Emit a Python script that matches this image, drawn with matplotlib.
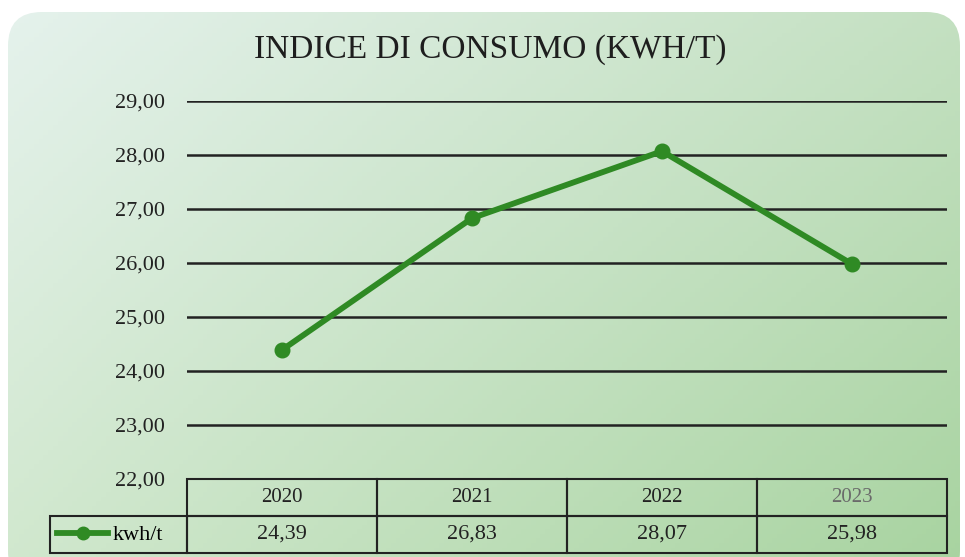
import numpy as np
import matplotlib
matplotlib.use("Agg")
import matplotlib.pyplot as plt
from matplotlib.patches import FancyBboxPatch
from matplotlib.lines import Line2D

years = ['2020', '2021', '2022', '2023']
values = [24.39, 26.83, 28.07, 25.98]
yticks = [22, 23, 24, 25, 26, 27, 28, 29]
series_label = 'kwh/t'
title = 'INDICE DI CONSUMO (KWH/T)'

green = '#2f8a24'
ink = '#222222'
plt.rcParams['font.family'] = ['Liberation Serif', 'DejaVu Serif']

W, H = 965, 557
fig = plt.figure(figsize=(W / 100, H / 100), dpi=100)
fig.patch.set_facecolor('white')

# gradient background in a rounded box
bg = fig.add_axes([0, 0, 1, 1], zorder=0)
bg.set_xlim(0, 1)
bg.set_ylim(0, 1)
bg.axis('off')
gx = np.linspace(0, 1, 200)
gy = np.linspace(0, 1, 120)
X, Y = np.meshgrid(gx, gy)
tl = np.array([0.90, 0.95, 0.93])
tr = np.array([0.77, 0.88, 0.76])
bl = np.array([0.82, 0.91, 0.81])
br = np.array([0.66, 0.83, 0.63])
top = tl[None, None, :] * (1 - X[..., None]) + tr[None, None, :] * X[..., None]
bot = bl[None, None, :] * (1 - X[..., None]) + br[None, None, :] * X[..., None]
img = top * Y[..., None] + bot * (1 - Y[..., None])
im = bg.imshow(img, extent=[0, 1, 0, 1], origin='lower', aspect='auto')
box = FancyBboxPatch((8 / W, -0.05), (952 / W), 1 - 12 / H + 0.05,
                     boxstyle='round,pad=0,rounding_size=0.035',
                     transform=bg.transAxes, facecolor='none', edgecolor='none',
                     mutation_aspect=W / H)
bg.add_patch(box)
im.set_clip_path(box)

fig.text(490 / W, 1 - 50 / H, title, ha='center', va='center',
         fontsize=24, color='#1e1e1e')

# main plot
x0, x1 = 187, 947
ytop, ybot = 101, 479
ax = fig.add_axes([x0 / W, 1 - ybot / H, (x1 - x0) / W, (ybot - ytop) / H], zorder=2)
ax.patch.set_alpha(0)
xs = np.arange(len(years))
ax.plot(xs, values, color=green, lw=4.2, marker='o', ms=10.5,
        solid_capstyle='round', zorder=3)
ax.set_xlim(-0.5, len(years) - 0.5)
ax.set_ylim(min(yticks), max(yticks))
ax.set_yticks(yticks)
ax.set_yticklabels([f'{v:.2f}'.replace('.', ',') for v in yticks],
                   fontsize=16, color=ink)
ax.set_xticks([])
ax.tick_params(axis='y', length=0, pad=16)
ax.yaxis.grid(True, color=ink, lw=1.8)
for s in ax.spines.values():
    s.set_visible(False)

# data table under the plot
cell_text = [[''] + years,
             [''] + [f'{v:.2f}'.replace('.', ',') for v in values]]
label_w = 137
col_w = [label_w] + [(x1 - x0) / len(years)] * len(years)
tot = sum(col_w)
tab_h = (553 - ybot) / (ybot - ytop)
tab = ax.table(cellText=cell_text, colWidths=[c / tot for c in col_w],
               cellLoc='center',
               bbox=[-label_w / (x1 - x0), -tab_h, tot / (x1 - x0), tab_h])
tab.auto_set_font_size(False)
for (r, c), cell in tab.get_celld().items():
    cell.set_facecolor('none')
    cell.set_edgecolor(ink)
    cell.set_linewidth(1.5)
    cell.get_text().set_fontsize(16 if r == 1 else 15)
    cell.get_text().set_color(ink)
    if r == 0 and c == 0:
        cell.visible_edges = ''
tab.get_celld()[(0, 4)].get_text().set_color('#6a6a6a')

handle = Line2D([], [], color=green, lw=4.2, marker='o', ms=9)
fig.legend([handle], [series_label], loc='center left',
           bbox_to_anchor=(57 / W, 1 - 535 / H), frameon=False,
           fontsize=16, handlelength=2.3, handletextpad=0.2,
           borderpad=0, borderaxespad=0)

fig.savefig('out.png', dpi=100)
